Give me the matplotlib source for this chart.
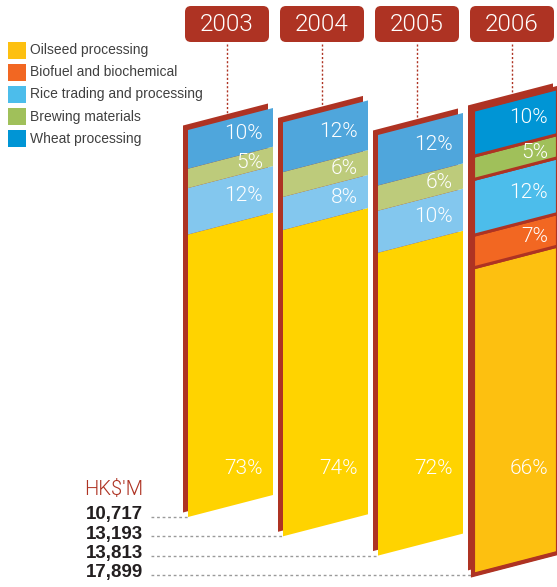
import matplotlib.pyplot as plt
from matplotlib.patches import Polygon, FancyBboxPatch

years = ["2003", "2004", "2005", "2006"]
revenue = [10717, 13193, 13813, 17899]  # HK$'M
categories = ["Oilseed processing", "Biofuel and biochemical",
              "Rice trading and processing", "Brewing materials",
              "Wheat processing"]
# share of each business per year, bottom to top (%)
oilseed = [73, 74, 72, 66]
biofuel = [0, 0, 0, 7]
rice = [12, 8, 10, 12]
brewing = [5, 6, 6, 5]
wheat = [10, 12, 12, 10]
shares = [oilseed, biofuel, rice, brewing, wheat]

colors = ["#FDC010", "#F26722", "#4CBDEB", "#A0C05A", "#0095D5"]
faded = ["#FFD300", "#F26722", "#83C7EE", "#BDCB7B", "#4FA6DC"]
red = "#AE3323"
light = ["Roboto", "DejaVu Sans"]

plt.rcParams["font.family"] = ["Liberation Sans", "DejaVu Sans"]
fig = plt.figure(figsize=(5.57, 5.87), dpi=100)
ax = fig.add_axes([0, 0, 1, 1])
ax.set_xlim(0, 557)
ax.set_ylim(587, 0)
ax.axis("off")

# panel layout (pixels)
left0, step, width, slope = 188, 95, 85, 0.259
row0, row_step = 517, 19.3
h_base, h_per_m = 270.6, 0.01086
sx, sy = -5, -4.5  # shadow offset


def quad(x0, y_lo, y_hi, dx=0, dy=0):
    return [(x0 + dx, y_lo + dy), (x0 + width + dx, y_lo - slope * width + dy),
            (x0 + width + dx, y_hi - slope * width + dy), (x0 + dx, y_hi + dy)]


for i, year in enumerate(years):
    x0 = left0 + step * i
    bottom = row0 + row_step * i
    h = h_base + h_per_m * revenue[i]
    top = bottom - h
    latest = i == len(years) - 1
    pal = colors if latest else faded

    # red backing panel
    ax.add_patch(Polygon(quad(x0, bottom, top, sx, sy), closed=True,
                         facecolor=red, edgecolor="none", zorder=1))

    cum = 0
    for k, vals in enumerate(shares):
        v = vals[i]
        if v == 0:
            continue
        y_lo = bottom - h * cum / 100
        y_hi = bottom - h * (cum + v) / 100
        ax.add_patch(Polygon(quad(x0, y_lo, y_hi), closed=True,
                             facecolor=pal[k],
                             edgecolor=red if latest else "none",
                             linewidth=2.2 if latest else 0, zorder=2))
        lx = x0 + width - 10
        if k == 0:
            ly = 468
        else:
            xm = width - 25
            ly = (y_lo + y_hi) / 2 - slope * xm
        ax.text(lx, ly, f"{v}%", color="white", fontsize=15, ha="right",
                va="center", family=light, fontweight=300, zorder=4)
        cum += v

    if latest:
        ax.add_patch(Polygon(quad(x0, bottom, top), closed=True,
                             facecolor="none", edgecolor=red, linewidth=3,
                             zorder=3))

    # year tag and dotted leader
    bx = x0 - 3
    ax.add_patch(FancyBboxPatch((bx, 6), 84, 36,
                                boxstyle="round,pad=0,rounding_size=6",
                                facecolor=red, edgecolor="none", zorder=3))
    ax.text(bx + 42, 24.5, year, color="white", fontsize=17.5, ha="center",
            va="center", family=light, fontweight=300, zorder=4)
    xc = bx + 42
    y_end = top + sy - slope * (xc - (x0 + sx))
    ax.plot([xc, xc], [44, y_end], color=red, linewidth=1,
            linestyle=(0, (1.5, 1.5)), zorder=0)

    # revenue row with dashed leader
    ax.text(143, bottom + 2.5, f"{revenue[i]:,}", fontsize=13.5,
            fontweight="bold", color="#231F20", ha="right", va="baseline")
    ax.plot([151, x0], [bottom, bottom], color="#9A9A9A", linewidth=1,
            linestyle=(0, (2, 2)), zorder=0)

ax.text(143, 495, "HK$'M", color=red, fontsize=14.5, ha="right",
        va="baseline", family=light, fontweight=300)

# legend
for j, name in enumerate(categories):
    yc = 50 + 22.2 * j
    ax.add_patch(plt.Rectangle((8, yc - 8.5), 18, 17, facecolor=colors[j],
                               edgecolor="none"))
    ax.text(30, yc, name, fontsize=10, color="#404040", va="center",
            ha="left")

fig.savefig("out.png", dpi=100)
